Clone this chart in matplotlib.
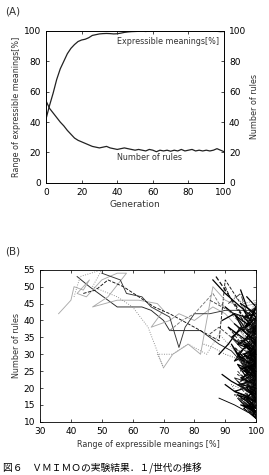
import numpy as np
import matplotlib
matplotlib.use("Agg")
import matplotlib.pyplot as plt

plt.rcParams['font.family'] = ['DejaVu Sans', 'Noto Sans CJK JP']

# --------------------
# Panel A data (every 2 generations)
# --------------------
generation = list(range(0, 101, 2))
meanings = [42, 51, 59, 68, 75, 80, 85, 88.5, 91, 93, 94, 94.5, 95.5, 97, 97.5, 98,
            98.2, 98.3, 98.2, 98, 98.1, 98.5, 99, 99.3, 99.5, 99.6, 99.7, 99.8, 99.6,
            99.8, 99.7, 99.9, 99.8, 99.9, 99.8, 99.9, 99.8, 99.9, 99.9, 99.8, 99.9,
            99.8, 99.9, 99.9, 99.8, 99.9, 99.8, 99.9, 99.7, 99.5, 99.6]
rules = [54, 49, 46, 43, 40, 37.5, 34.5, 32, 29.5, 28, 27, 26, 25, 24, 23.5, 23,
         23.5, 24, 23, 22.5, 22, 22.5, 23, 22.5, 22, 21.5, 22, 21.5, 21, 22, 21.5,
         20.5, 21.5, 21, 21.5, 20.8, 21.5, 21, 22, 21, 21.5, 22, 21, 21.5, 21, 21.5,
         21, 21.5, 22.5, 21.5, 20.5]

# --------------------
# Panel B data: (meanings %, number of rules) per run
# --------------------
run1_x = [42, 46, 52, 55, 60, 63, 66, 70, 72, 78, 82, 85, 88, 92, 95, 97, 99, 100, 98, 100, 97, 100, 99, 100]
run1_y = [53, 50, 46, 44, 44, 44, 43, 40, 37, 37, 37, 35, 33, 31, 28, 26, 24, 22, 25, 21, 24, 19, 22, 20]
run2_x = [36, 40, 41, 44, 46, 42, 45, 50, 55, 58, 52, 47, 55, 62, 68, 70, 66, 72, 75, 80, 86, 90, 94, 97, 100, 98, 100]
run2_y = [42, 46, 50, 49, 52, 48, 47, 52, 54, 54, 47, 44, 46, 46, 45, 43, 38, 40, 42, 40, 44, 42, 38, 34, 30, 33, 28]
run3_x = [41, 43, 50, 47, 55, 60, 65, 70, 68, 73, 78, 84, 88, 93, 96, 100, 97, 100, 99, 100]
run3_y = [47, 53, 55, 50, 47, 44, 38, 26, 30, 30, 33, 30, 36, 31, 27, 24, 29, 22, 26, 21]
run4_x = [44, 48, 52, 57, 62, 67, 72, 76, 80, 84, 88, 90, 95, 98, 100, 99, 100, 96, 100]
run4_y = [48, 49, 52, 50, 47, 44, 42, 40, 38, 36, 34, 52, 45, 40, 36, 30, 26, 30, 25]
run5_x = [50, 56, 58, 63, 66, 72, 75, 77, 80, 85, 90, 95, 100, 100]
run5_y = [54, 52, 48, 47, 44, 41, 32, 38, 42, 42, 43, 43, 43, 42]
run6_x = [72, 76, 80, 86, 88, 90, 94, 97, 100, 98, 100]
run6_y = [37, 40, 42, 48, 45, 44, 40, 37, 33, 38, 31]
run7_x = [70, 73, 78, 82, 86, 90, 95, 100]
run7_y = [26, 30, 33, 30, 50, 46, 44, 45]
run8_x = [88, 93, 97, 100, 96, 99, 100, 94, 100]
run8_y = [17, 15, 13, 12, 16, 14, 11, 17, 12]
run9_x = [86, 90, 95, 100, 93, 98, 100, 96, 99, 100, 94, 97, 100, 95, 100, 98, 100, 92, 97, 100, 96, 100, 99, 100]
run9_y = [52, 48, 44, 40, 42, 36, 38, 34, 31, 35, 30, 28, 26, 29, 24, 27, 22, 33, 25, 20, 23, 18, 21, 16]
run10_x = [90, 92, 94, 97, 100, 95, 100, 98, 91, 96, 100, 97, 100, 93, 99, 100, 96, 100, 94, 100, 98, 100]
run10_y = [50, 46, 43, 40, 36, 41, 33, 30, 38, 34, 30, 27, 25, 32, 28, 23, 26, 19, 22, 17, 20, 14]
run11_x = [89, 93, 96, 100, 97, 100, 92, 95, 99, 100, 98, 93, 100, 97, 100, 95, 99, 100, 97, 100]
run11_y = [40, 42, 37, 44, 38, 41, 35, 33, 37, 30, 34, 28, 31, 25, 28, 22, 24, 19, 16, 13]
run12_x = [93, 96, 100, 98, 100, 94, 99, 100, 96, 100, 97, 100, 95, 100, 99, 100, 92, 96, 100]
run12_y = [47, 45, 46, 42, 39, 40, 36, 34, 32, 35, 29, 27, 26, 24, 20, 18, 21, 15, 14]
run13_x = [88, 91, 95, 98, 100, 96, 100, 99, 94, 97, 100, 93, 98, 100, 96, 100]
run13_y = [30, 33, 38, 35, 32, 30, 28, 25, 27, 23, 21, 19, 17, 16, 14, 11]
run14_x = [91, 95, 97, 100, 94, 99, 100, 97, 100, 95, 98, 100, 96, 100, 98, 100, 93, 100]
run14_y = [45, 48, 42, 37, 38, 33, 40, 36, 31, 25, 29, 27, 23, 22, 19, 17, 18, 13]
run15_x = [95, 97, 100, 99, 100, 98, 100, 97, 100, 99, 100, 96, 100, 98, 100]
run15_y = [49, 44, 41, 37, 34, 30, 29, 26, 24, 21, 19, 17, 15, 13, 12]
run16_x = [85, 88, 92, 96, 100, 97, 100, 98, 100, 94, 100, 96, 100]
run16_y = [36, 38, 35, 33, 31, 29, 27, 25, 23, 24, 20, 18, 17]
run17_x = [87, 90, 93, 96, 100, 97, 100, 98, 100, 95, 100, 99, 100, 97, 100]
run17_y = [53, 49, 45, 41, 38, 36, 33, 31, 28, 30, 25, 22, 20, 18, 15]
run18_x = [96, 98, 100, 97, 100, 99, 100, 96, 100, 98, 100, 97, 100, 99, 100, 98, 100]
run18_y = [43, 40, 38, 35, 33, 31, 29, 27, 26, 24, 23, 21, 19, 17, 16, 14, 13]
run19_x = [92, 95, 98, 100, 94, 97, 100, 99, 100, 93, 97, 100, 98, 100, 95, 100]
run19_y = [35, 32, 30, 27, 29, 25, 24, 22, 21, 23, 19, 18, 16, 15, 17, 11]
run20_x = [90, 94, 97, 100, 98, 100, 96, 99, 100, 97, 100, 95, 100, 98, 100]
run20_y = [44, 41, 39, 37, 35, 32, 33, 30, 28, 27, 25, 26, 22, 20, 18]
run21_x = [97, 100, 98, 100, 99, 100, 97, 100, 98, 100, 96, 100, 99, 100]
run21_y = [47, 44, 40, 39, 36, 34, 32, 30, 29, 27, 25, 24, 22, 21]
run22_x = [94, 96, 99, 100, 97, 100, 95, 98, 100, 96, 100, 97, 100]
run22_y = [25, 23, 21, 19, 22, 18, 20, 17, 16, 15, 14, 13, 12]
run23_x = [89, 92, 96, 100, 98, 100, 94, 100, 97, 100, 99, 100]
run23_y = [24, 22, 20, 17, 19, 16, 18, 14, 15, 13, 12, 11]
run24_x = [83, 86, 90, 93, 97, 100, 95, 99, 100, 96, 100, 98, 100]
run24_y = [33, 32, 30, 29, 27, 26, 28, 24, 23, 21, 22, 20, 19]
run25_x = [91, 94, 97, 100, 96, 100, 98, 100, 97, 100, 99, 100]
run25_y = [38, 36, 34, 31, 33, 29, 30, 26, 28, 24, 25, 23]
run26_x = [98, 100, 99, 100, 98, 100, 99, 100, 97, 100, 99, 100]
run26_y = [42, 41, 38, 37, 35, 34, 32, 31, 29, 28, 26, 25]
run27_x = [85, 89, 93, 97, 100, 96, 100, 98, 100]
run27_y = [46, 44, 42, 40, 39, 37, 35, 34, 32]
run28_x = [90, 93, 96, 100, 97, 100, 95, 100, 98, 100]
run28_y = [21, 19, 18, 16, 17, 14, 15, 13, 14, 12]
run29_x = [95, 100, 96, 99, 97, 100, 94, 100, 96, 100, 98, 100, 95, 100, 97, 100]
run29_y = [45, 42, 41, 38, 37, 36, 33, 31, 30, 27, 26, 23, 21, 20, 17, 14]
run30_x = [100, 96, 100, 98, 100, 95, 100, 97, 100, 96, 99, 100, 94, 100, 97]
run30_y = [44, 41, 40, 37, 35, 34, 32, 29, 28, 26, 24, 22, 21, 18, 16]
run31_x = [93, 97, 100, 98, 100, 96, 100, 99, 100, 97, 100, 98, 100]
run31_y = [39, 36, 34, 30, 27, 26, 23, 21, 18, 20, 17, 15, 13]
run32_x = [96, 100, 97, 100, 98, 100, 95, 100, 98, 100]
run32_y = [33, 31, 29, 28, 26, 25, 23, 21, 20, 19]

runs = [
    (run1_x, run1_y, '#222222', '-'),
    (run2_x, run2_y, '#aaaaaa', '-'),
    (run3_x, run3_y, '#888888', ':'),
    (run4_x, run4_y, '#111111', '--'),
    (run5_x, run5_y, '#333333', '-'),
    (run6_x, run6_y, '#777777', '--'),
    (run7_x, run7_y, '#aaaaaa', '-'),
    (run8_x, run8_y, '#000000', '-'),
    (run9_x, run9_y, '#000000', '-'),
    (run10_x, run10_y, '#222222', '--'),
    (run11_x, run11_y, '#000000', '-'),
    (run12_x, run12_y, '#555555', ':'),
    (run13_x, run13_y, '#000000', '-'),
    (run14_x, run14_y, '#333333', '-.'),
    (run15_x, run15_y, '#000000', '-'),
    (run16_x, run16_y, '#444444', '--'),
    (run17_x, run17_y, '#111111', '--'),
    (run18_x, run18_y, '#000000', '-'),
    (run19_x, run19_y, '#222222', '-'),
    (run20_x, run20_y, '#000000', '-'),
    (run21_x, run21_y, '#000000', '-'),
    (run22_x, run22_y, '#333333', '--'),
    (run23_x, run23_y, '#000000', '-'),
    (run24_x, run24_y, '#666666', ':'),
    (run25_x, run25_y, '#000000', '-'),
    (run26_x, run26_y, '#000000', '-'),
    (run27_x, run27_y, '#444444', '--'),
    (run28_x, run28_y, '#000000', '-'),
    (run29_x, run29_y, '#000000', '-'),
    (run30_x, run30_y, '#111111', '-'),
    (run31_x, run31_y, '#000000', '-'),
    (run32_x, run32_y, '#000000', '-'),
]

fs = 6.5

fig = plt.figure(figsize=(2.69, 4.75), dpi=100)

# --------------------
# Panel A
# --------------------
ax1 = fig.add_axes([0.171, 0.615, 0.662, 0.32])
ax1.plot(generation, meanings, color='#222222', lw=0.9)
ax1.set_xlim(0, 100)
ax1.set_ylim(0, 100)
ax1.set_xticks(range(0, 101, 20))
ax1.set_yticks(range(0, 101, 20))
ax1.tick_params(direction='in', labelsize=fs, length=2, width=0.5, top=True)
ax1.set_xlabel('Generation', fontsize=fs, labelpad=2, color='#333333')
ax1.set_ylabel('Range of expressible meanings[%]', fontsize=5.8, labelpad=2, color='#333333')
ax1.text(40, 93, 'Expressible meanings[%]', fontsize=5.8, color='#333333', va='center')
ax1.text(40, 17, 'Number of rules', fontsize=5.8, color='#333333', va='center')

ax2 = ax1.twinx()
ax2.plot(generation, rules, color='#222222', lw=0.9)
ax2.set_ylim(0, 100)
ax2.set_yticks(range(0, 101, 20))
ax2.tick_params(direction='in', labelsize=fs, length=2, width=0.5)
ax2.set_ylabel('Number of rules', fontsize=5.8, labelpad=3, color='#333333')
for ax in (ax1, ax2):
    for s in ax.spines.values():
        s.set_linewidth(0.6)

# --------------------
# Panel B
# --------------------
ax3 = fig.add_axes([0.149, 0.112, 0.803, 0.32])
for i, (xs, ys, c, ls) in enumerate(runs):
    lw = 0.9 if i >= 8 and c in ('#000000', '#111111') else 0.65
    ax3.plot(xs, ys, color=c, ls=ls, lw=lw)
ax3.set_xlim(30, 100)
ax3.set_ylim(10, 55)
ax3.set_xticks(range(30, 101, 10))
ax3.set_yticks(range(10, 56, 5))
ax3.tick_params(direction='in', labelsize=fs, length=2, width=0.5, top=True, right=True)
ax3.set_xlabel('Range of expressible meanings [%]', fontsize=5.8, labelpad=3, color='#333333')
ax3.set_ylabel('Number of rules', fontsize=5.8, labelpad=2, color='#333333')
for s in ax3.spines.values():
    s.set_linewidth(0.6)

fig.text(0.02, 0.975, '(A)', fontsize=7.5, va='center', color='#333333')
fig.text(0.02, 0.47, '(B)', fontsize=7.5, va='center', color='#333333')
fig.text(0.01, 0.015, '図６　ＶＭＩＭＯの実験結果．１/世代の推移',
         fontsize=7, va='center', family=['Noto Sans CJK JP', 'DejaVu Sans'])

fig.savefig('out.png', dpi=100)
